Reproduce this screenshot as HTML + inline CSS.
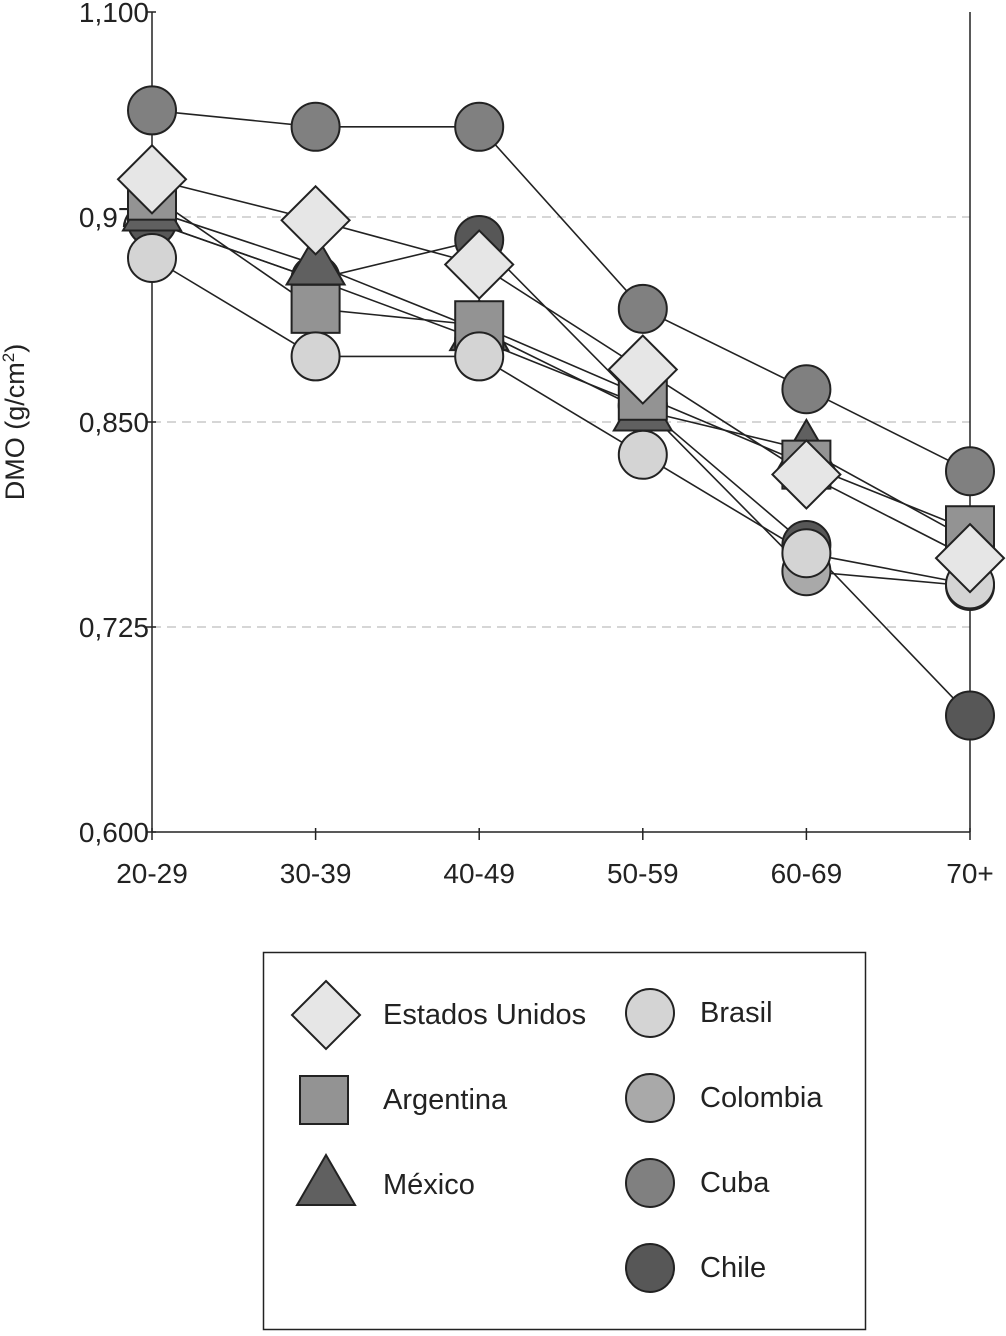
<!DOCTYPE html>
<html><head><meta charset="utf-8"><style>
html,body{margin:0;padding:0;background:#fff;}
svg text{font-family:"Liberation Sans",sans-serif;fill:#222;}
</style></head><body>
<svg id="chart" width="1006" height="1331" viewBox="0 0 1006 1331" xmlns="http://www.w3.org/2000/svg">
<g id="axes"></g>
<g id="lines"></g>
<g id="marks"></g>
<text transform="translate(24,422) rotate(-90)" text-anchor="middle" font-size="27">DMO (g/cm<tspan font-size="17" dy="-10">2</tspan><tspan dy="10">)</tspan></text>
<g>
<rect x="263.5" y="952.5" width="602" height="377" fill="none" stroke="#222" stroke-width="1.5"/>
<g id="legend-items"></g>
</g>
</svg>
<script>
const categories = ["20-29","30-39","40-49","50-59","60-69","70+"];
const yTicks = [0.600,0.725,0.850,0.975,1.100];
const yTickLabels = ["0,600","0,725","0,850","0,975","1,100"];
const colombia = [0.972,0.937,0.900,0.860,0.759,0.750];
const chile = [0.972,0.937,0.961,0.860,0.775,0.671];
const mexico = [0.979,0.946,0.906,0.857,0.833,0.778];
const argentina = [0.988,0.919,0.909,0.866,0.824,0.784];
const brasil = [0.950,0.890,0.890,0.830,0.770,0.751];
const cuba = [1.040,1.030,1.030,0.919,0.870,0.820];
const estadosUnidos = [0.998,0.973,0.946,0.882,0.818,0.767];

const NS="http://www.w3.org/2000/svg";
const x0=152,x1=970,yTop=12,yBot=832;
function xs(i){return x0+i*(x1-x0)/(categories.length-1);}
function ys(v){return yBot-(v-0.6)/(0.5)*(yBot-yTop);}
function mk(tag,attrs,parent){const e=document.createElementNS(NS,tag);for(const k in attrs)e.setAttribute(k,attrs[k]);parent.appendChild(e);return e;}
const axes=document.getElementById('axes');
yTicks.forEach((t,i)=>{
  const y=ys(t);
  if(i>0&&i<yTicks.length-1){const g=mk('line',{x1:x0,x2:x1,y1:y,y2:y,stroke:'#c8c8c8','stroke-width':1.5,'stroke-dasharray':'9,6'},axes);
  
  }
  const tk=mk('line',{x1:x0-6,x2:x0+4,y1:y,y2:y,stroke:'#222','stroke-width':1.5},axes);
  
  
  const tx=mk('text',{x:x0-3,y:y+10,'text-anchor':'end','font-size':28},axes);tx.textContent=yTickLabels[i];
  
  
});
categories.forEach((c,i)=>{
  const x=xs(i);
  const tk=mk('line',{x1:x,x2:x,y1:yBot-4,y2:yBot+8,stroke:'#222','stroke-width':1.5},axes);
  
  
  const tx=mk('text',{x:x,y:883,'text-anchor':'middle','font-size':28},axes);tx.textContent=c;
  
  
});
const ya=mk('line',{x1:x0,x2:x0,y1:yTop,y2:yBot,stroke:'#222','stroke-width':1.5},axes);


const xa=mk('line',{x1:x0,x2:x1,y1:yBot,y2:yBot,stroke:'#222','stroke-width':1.5},axes);


const rb=mk('line',{x1:x1,x2:x1,y1:yTop,y2:yBot,stroke:'#222','stroke-width':1.5},axes);



function shape(type,cx,cy,fill,parent){
  let e;
  if(type==='circle')e=mk('circle',{cx:cx,cy:cy,r:24},parent);
  else if(type==='square')e=mk('rect',{x:cx-24,y:cy-24,width:48,height:48},parent);
  else if(type==='triangle')e=mk('polygon',{points:`${cx},${cy-30} ${cx+29},${cy+20} ${cx-29},${cy+20}`},parent);
  else e=mk('polygon',{points:`${cx},${cy-34} ${cx+34},${cy} ${cx},${cy+34} ${cx-34},${cy}`},parent);
  e.setAttribute('fill',fill);e.setAttribute('stroke','#222');e.setAttribute('stroke-width',2);
  return e;
}
const series=[
  {name:'Colombia',data:colombia,type:'circle',fill:'#a9a9a9'},
  {name:'Chile',data:chile,type:'circle',fill:'#575757'},
  {name:'México',data:mexico,type:'triangle',fill:'#606060'},
  {name:'Argentina',data:argentina,type:'square',fill:'#939393'},
  {name:'Brasil',data:brasil,type:'circle',fill:'#d4d4d4'},
  {name:'Cuba',data:cuba,type:'circle',fill:'#808080'},
  {name:'Estados Unidos',data:estadosUnidos,type:'diamond',fill:'#e6e6e6'}
];
const lines=document.getElementById('lines'),marks=document.getElementById('marks');
series.forEach(s=>{
  const pl=mk('polyline',{points:s.data.map((v,i)=>xs(i)+','+ys(v)).join(' '),fill:'none',stroke:'#222','stroke-width':1.6},lines);
  
  
});
series.forEach(s=>{
  s.data.forEach((v,i)=>{
    const e=shape(s.type,xs(i),ys(v),s.fill,marks);
    
    
  });
});
const legendItems=document.getElementById('legend-items');
const legendDefs=[
  ['Estados Unidos','diamond','#e6e6e6',326,1015],
  ['Argentina','square','#939393',324,1100],
  ['México','triangle','#606060',326,1185],
  ['Brasil','circle','#d4d4d4',650,1013],
  ['Colombia','circle','#a9a9a9',650,1098],
  ['Cuba','circle','#808080',650,1183],
  ['Chile','circle','#575757',650,1268]
];
legendDefs.forEach(d=>{
  const g=mk('g',{},legendItems);
  
  
  shape(d[1],d[3],d[4],d[2],g);
  const t=mk('text',{x:d[3]<400?383:700,y:d[4]+9,'font-size':29},g);t.textContent=d[0];
});
</script>
</body></html>
